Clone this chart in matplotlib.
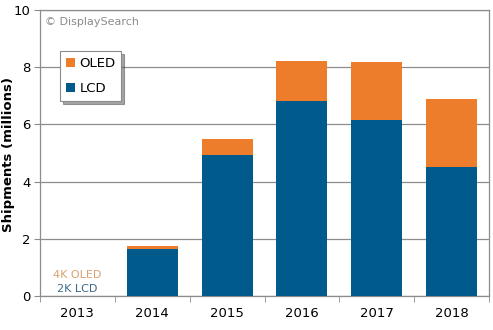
import matplotlib
matplotlib.use("Agg")
import matplotlib.pyplot as plt
from matplotlib.patches import Patch
import numpy as np

years = ["2013", "2014", "2015", "2016", "2017", "2018"]
lcd = [0.0, 1.63, 4.93, 6.82, 6.15, 4.52]
oled = [0.0, 0.13, 0.56, 1.40, 2.02, 2.36]

C_LCD = "#005a8c"
C_OLED = "#ee7d2b"
GRID = "#8c8c8c"

plt.rcParams['font.family'] = ['DejaVu Sans']
fig = plt.figure(figsize=(4.93, 3.30), dpi=100)
ax = fig.add_axes([40/493, 34/330, 449/493, 286/330])

x = np.arange(len(years))
ax.bar(x, lcd, width=0.68, color=C_LCD, zorder=3)
ax.bar(x, oled, width=0.68, bottom=lcd, color=C_OLED, zorder=3)

ax.set_xlim(-0.5, len(years) - 0.5)
ax.set_ylim(0, 10)
ax.set_yticks([0, 2, 4, 6, 8, 10])
ax.set_xticks(x)
ax.set_xticklabels(years, fontsize=9.5)
ax.tick_params(axis='y', labelsize=9.5, length=4, color=GRID, pad=3)
ax.tick_params(axis='x', length=0, pad=8)
ax.set_xticks(np.arange(-0.5, len(years)), minor=True)
ax.tick_params(axis='x', which='minor', length=4, color=GRID, direction='out')
ax.yaxis.grid(True, color=GRID, linewidth=0.9, zorder=0)
for s in ax.spines.values():
    s.set_color(GRID)
    s.set_linewidth(0.9)

fig.text(9/493, 1 - 155/330, "Shipments (millions)", rotation=90, fontsize=9.5,
         fontweight='bold', ha='center', va='center')

ax.text(0.012, 0.975, "\u00a9 DisplaySearch", transform=ax.transAxes, fontsize=8,
        color="#8c8c8c", va='top', ha='left')

ax.text(0.0, 0.072, "4K OLED", transform=ax.get_xaxis_transform(),
        color="#d9a070", fontsize=8, ha='center', va='center')
ax.text(0.0, 0.026, "2K LCD", transform=ax.get_xaxis_transform(),
        color="#3a6a8a", fontsize=8, ha='center', va='center')

handles = [Patch(facecolor=C_OLED, edgecolor='none', label='OLED'),
           Patch(facecolor=C_LCD, edgecolor='none', label='LCD')]
leg = ax.legend(handles=handles, loc='upper left', bbox_to_anchor=(0.045, 0.855),
                fontsize=9.5, frameon=True, fancybox=False, shadow=True,
                handlelength=0.7, handleheight=0.7, handletextpad=0.3,
                labelspacing=0.9, borderpad=0.45, borderaxespad=0)
leg.get_frame().set_edgecolor("#8c8c8c")
leg.get_frame().set_linewidth(0.8)

fig.savefig("out.png", dpi=100)
